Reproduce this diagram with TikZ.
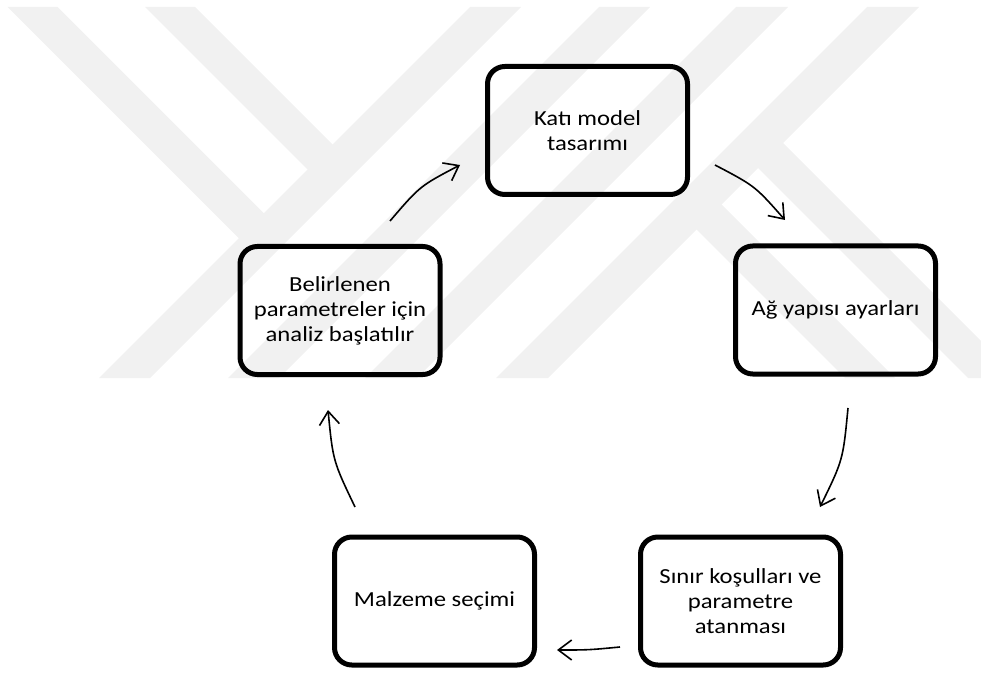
\documentclass[tikz,border=0pt]{standalone}
\usepackage{fontspec}
\setmainfont{Carlito}[FakeStretch=1.15]
\usetikzlibrary{arrows.meta}
\definecolor{wm}{RGB}{241,241,241}
\begin{document}
\begin{tikzpicture}[x=0.75pt,y=-0.75pt,
  box/.style={draw=black, line width=3.75pt, rounded corners=13pt,
    minimum width=150pt, minimum height=96pt, align=center, inner sep=0pt,
    font=\fontsize{16.1pt}{18.75pt}\selectfont},
  flow/.style={line width=1.2pt, -{Straight Barb[length=10pt,width=15pt]}},
  band/.style={fill=wm, draw=none}]
\useasboundingbox (0,0) rectangle (981,673);
% watermark
\begin{scope}
\clip (0,7) rectangle (981,378);
\fill[band] (470,7) -- (521,7) -- (150,378) -- (99,378) -- cycle;
\fill[band] (599,7) -- (650,7) -- (279,378) -- (228,378) -- cycle;
\fill[band] (736,7) -- (788,7) -- (417,378) -- (365,378) -- cycle;
\fill[band] (867,7) -- (919,7) -- (548,378) -- (496,378) -- cycle;
\fill[band] (7.5,7) -- (57.5,7) -- (275.25,224.75) -- (250.25,249.75) -- cycle;
\fill[band] (145,7) -- (195,7) -- (344,156) -- (319,181) -- cycle;
\fill[band] (688.5,221.5) -- (713.5,196.5) -- (895,378) -- (845,378) -- cycle;
\fill[band] (750,160) -- (775,135) -- (1018,378) -- (968,378) -- cycle;
\end{scope}
% boxes
\node[box] (b1) at (587.5,130.5) {Katı model\\tasarımı};
\node[box] (b2) at (835.5,310) {Ağ yapısı ayarları};
\node[box] (b3) at (740.5,601) {Sınır koşulları ve\\parametre\\atanması};
\node[box] (b4) at (434.5,601) {Malzeme seçimi};
\node[box] (b5) at (340,310.5) {Belirlenen\\parametreler için\\analiz başlatılır};
% connector ends
\coordinate (a1s) at (390,221);
\coordinate (a1e) at (460,165);
\coordinate (a2s) at (715,165);
\coordinate (a2e) at (785,220);
\coordinate (a3s) at (848,408);
\coordinate (a3e) at (820,507);
\coordinate (a4s) at (620,647);
\coordinate (a4e) at (557,650);
\coordinate (a5s) at (355,507);
\coordinate (a5e) at (328,410);
\draw[flow] (a1s) .. controls (420,186) .. (a1e);
\draw[flow] (a2s) .. controls (755,186) .. (a2e);
\draw[flow] (a3s) .. controls (843,460) .. (a3e);
\draw[flow] (a4s) .. controls (588.5,650) .. (a4e);
\draw[flow] (a5s) .. controls (333,461) .. (a5e);
\end{tikzpicture}
\end{document}
